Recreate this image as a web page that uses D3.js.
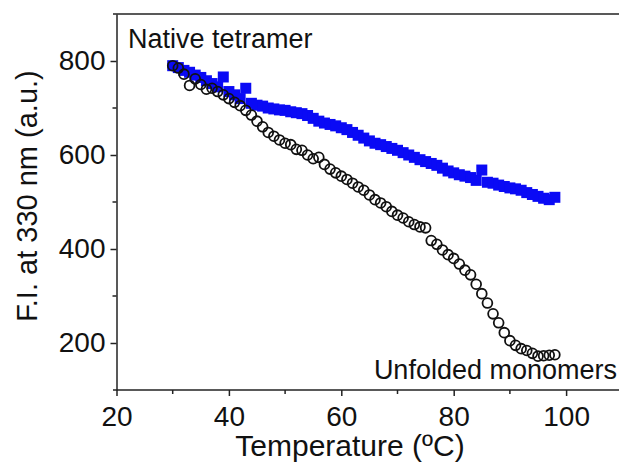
<!DOCTYPE html>
<html>
<head>
<meta charset="utf-8">
<script src="https://d3js.org/d3.v7.min.js"></script>
<style>
body { margin: 0; background: #fff; }
svg text { font-family: "Liberation Sans", Arial, sans-serif; fill: #111; }
</style>
</head>
<body>
<svg width="619" height="469"></svg>
<script>
// temperatures (C)
var temps = [30,31,32,33,34,35,36,37,38,39,40,41,42,43,44,45,46,47,48,49,
             50,51,52,53,54,55,56,57,58,59,60,61,62,63,64,65,66,67,68,69,
             70,71,72,73,74,75,76,77,78,79,80,81,82,83,84,85,86,87,88,89,
             90,91,92,93,94,95,96,97,98];

// native tetramer (blue squares)
var tetramer = [790,786,780,776,770,765,758,752,745,766,735,728,720,742,710,706,704,700,698,696,
                695,692,690,688,684,678,672,668,665,662,658,654,648,642,636,630,625,622,618,614,
                610,605,600,595,590,586,582,578,572,566,562,558,555,552,546,568,542,540,536,533,
                530,528,525,520,516,512,508,505,510];

// unfolded monomers (open circles)
var monomer = [790,785,772,748,762,750,740,742,735,728,720,712,705,695,685,672,660,648,640,632,
               625,622,612,610,600,592,595,580,570,562,555,548,540,532,525,515,505,498,490,480,
               472,466,458,452,447,445,418,410,398,388,380,368,355,345,325,305,285,262,243,222,
               205,195,188,184,178,172,173,174,175];

var xTicks = [20,40,60,80,100];
var xMinor = [30,50,70,90];
var yTicks = [200,400,600,800];
var yMinor = [300,500,700];

var svg = d3.select("svg");
var x = d3.scaleLinear().domain([20,110]).range([116.5,622.3]);
var y = d3.scaleLinear().domain([100,900]).range([390,14]);

var ink = "#222";

// frame top line
svg.append("line").attr("x1",113).attr("x2",619).attr("y1",y(900)).attr("y2",y(900))
   .attr("stroke",ink).attr("stroke-width",1.5);

// x axis
var gx = svg.append("g").attr("transform","translate(0,"+y(100)+")")
   .call(d3.axisBottom(x).tickValues(xTicks).tickSize(6).tickSizeOuter(0).tickPadding(10));
gx.append("g").selectAll("line").data(xMinor).enter().append("line")
   .attr("x1",d=>x(d)).attr("x2",d=>x(d)).attr("y1",0).attr("y2",4);
gx.select(".domain").attr("d","M113,0H619");

// y axis
var gy = svg.append("g").attr("transform","translate("+x(20)+",0)")
   .call(d3.axisLeft(y).tickValues(yTicks).tickSize(6).tickSizeOuter(0).tickPadding(5));
gy.append("g").selectAll("line").data(yMinor).enter().append("line")
   .attr("x1",0).attr("x2",-4).attr("y1",d=>y(d)).attr("y2",d=>y(d));

svg.selectAll(".domain").attr("stroke",ink).attr("stroke-width",1.5);
svg.selectAll(".tick line").attr("stroke",ink).attr("stroke-width",1.5);
gx.selectAll("g > line").attr("stroke",ink).attr("stroke-width",1.5);
gy.selectAll("g > line").attr("stroke",ink).attr("stroke-width",1.5);
svg.selectAll(".tick text").attr("font-size",28).attr("font-family","Liberation Sans, Arial").attr("fill","#111");

// blue squares
var sq = 11;
svg.append("g").selectAll("rect").data(temps).enter().append("rect")
   .attr("x",(d,i)=>x(d)-sq/2).attr("y",(d,i)=>y(tetramer[i])-sq/2)
   .attr("width",sq).attr("height",sq).attr("fill","#0a0af5");

// open circles
svg.append("g").selectAll("circle").data(temps).enter().append("circle")
   .attr("cx",d=>x(d)).attr("cy",(d,i)=>y(monomer[i])).attr("r",4.9)
   .attr("fill","none").attr("stroke","#111").attr("stroke-width",1.8);

// annotations
svg.append("text").attr("x",128).attr("y",48).attr("font-size",27).text("Native tetramer");
svg.append("text").attr("x",617).attr("y",379).attr("font-size",27)
   .attr("text-anchor","end").text("Unfolded monomers");

// axis titles
svg.append("text").attr("x",350).attr("y",456).attr("font-size",30)
   .attr("text-anchor","middle").text("Temperature (\u00baC)");
svg.append("text").attr("transform","translate(37,196) rotate(-90)").attr("font-size",29)
   .attr("text-anchor","middle").text("F.I. at 330 nm (a.u.)");
</script>
</body>
</html>
